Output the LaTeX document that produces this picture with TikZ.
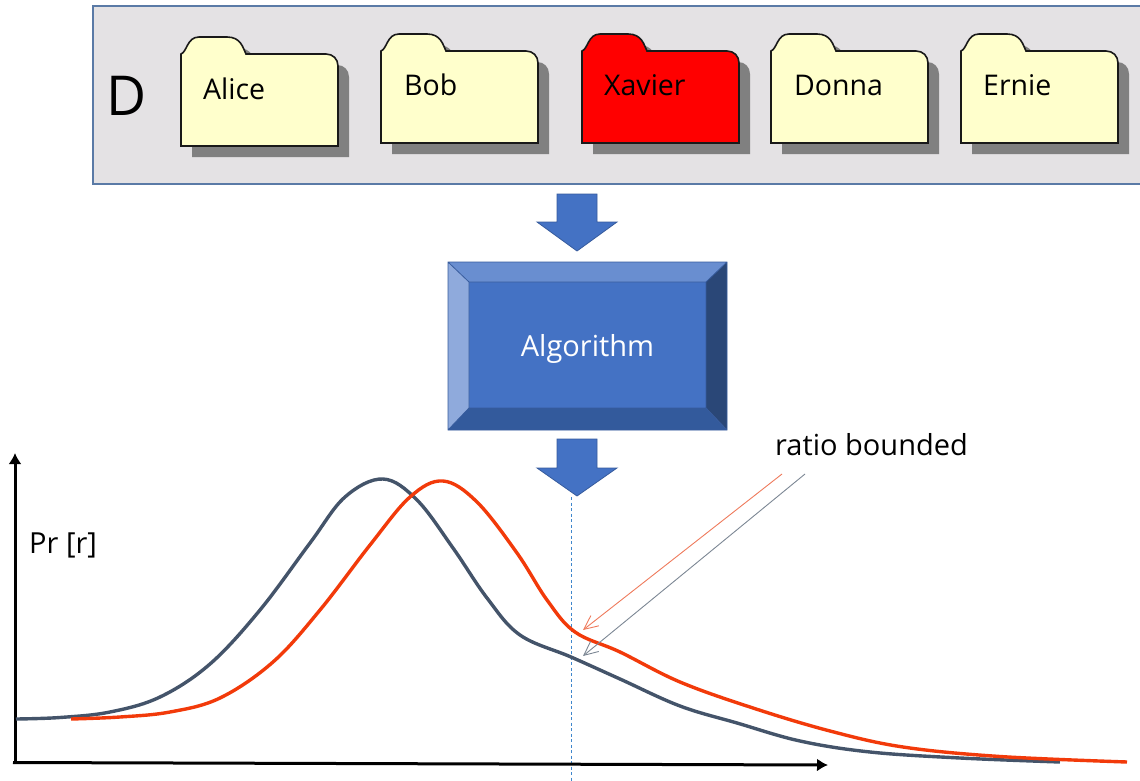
\documentclass[tikz,border=0pt]{standalone}
\usepackage{fontspec}
\setmainfont{Open Sans}
\usetikzlibrary{arrows.meta}
\definecolor{panelfill}{HTML}{E4E2E4}
\definecolor{panelline}{HTML}{5A7AA6}
\definecolor{foldercream}{HTML}{FFFFCC}
\definecolor{foldershadow}{HTML}{808080}
\definecolor{algomain}{HTML}{4472C4}
\definecolor{algotop}{HTML}{698ED0}
\definecolor{algoleft}{HTML}{8FAADC}
\definecolor{algoright}{HTML}{2A4777}
\definecolor{algobottom}{HTML}{335A9C}
\definecolor{curvedark}{HTML}{44546A}
\definecolor{curvered}{HTML}{F23A0A}
\definecolor{thinred}{HTML}{EE7A5C}
\definecolor{thingrey}{HTML}{7C8794}
\definecolor{dashblue}{HTML}{3F86CC}
\newcommand{\folderoutline}{(0,92) -- (0,0) .. controls (6,-2) and (6,-17) .. (18,-17) -- (46,-17) .. controls (60,-17) and (62,-6) .. (65,0) -- (145,0) .. controls (152,0) and (157,5) .. (157,12) -- (157,92) -- cycle}
\tikzset{
  foldertext/.style={anchor=base west,inner sep=0pt,font=\fontsize{28.5}{32}\selectfont},
  labeltext/.style={inner sep=0pt,font=\fontsize{29}{33}\selectfont},
  bigarrow/.style={fill=algomain,draw=algomain!80!black,line width=0.8pt},
  axisline/.style={line width=3pt,-{Latex[length=11pt,width=13pt]}},
  curveline/.style={line width=3.4pt,smooth,tension=0.6,line cap=butt},
  thinarrow/.style={line width=0.9pt,-{Straight Barb[length=14pt,width=13pt,line width=0.9pt]}}
}
\begin{document}
\begin{tikzpicture}[x=1pt,y=-1pt]
\useasboundingbox (0,0) rectangle (1140,781);
% panel
\path[fill=panelfill,draw=panelline,line width=1.6pt] (93,6) -- (1142,6) -- (1142,184) -- (93,184) -- cycle;
\node[inner sep=0pt,font=\fontsize{55}{60}\selectfont] (dlabel) at (126.5,96) {D};
% folders
\foreach \fx/\fy/\fc/\fname/\ftxt/\tx/\ty in {
  181/54/foldercream/alice/Alice/203/100,
  381/51/foldercream/bob/Bob/404/96,
  582/51/red/xavier/Xavier/604/96,
  771/51/foldercream/donna/Donna/794/96,
  961/51/foldercream/ernie/Ernie/983/96}{
  \begin{scope}[shift={(\fx,\fy)}]
    \fill[foldershadow,shift={(11,11)}] \folderoutline;
    \draw[draw=black!90,line width=1.6pt,fill=\fc] \folderoutline;
  \end{scope}
  \node[foldertext] (\fname) at (\tx,\ty) {\ftxt};
}
% top block arrow
\path[bigarrow] (557,194) -- (597,194) -- (597,222) -- (617,222) -- (577,251) -- (537,222) -- (557,222) -- cycle;
% algorithm bevel
\fill[algomain] (469,282) rectangle (706,408);
\fill[algotop] (448,262) -- (727,262) -- (706,282) -- (469,282) -- cycle;
\fill[algoleft] (448,262) -- (469,282) -- (469,408) -- (448,430) -- cycle;
\fill[algoright] (727,262) -- (706,282) -- (706,408) -- (727,430) -- cycle;
\fill[algobottom] (448,430) -- (469,408) -- (706,408) -- (727,430) -- cycle;
\draw[algomain!80!black,line width=0.8pt] (448,262) rectangle (727,430) (469,282) rectangle (706,408)
  (448,262) -- (469,282) (727,262) -- (706,282) (727,430) -- (706,408) (448,430) -- (469,408);
\node[labeltext,text=white,anchor=base] (algo) at (587.5,356) {Algorithm};
% lower block arrow
\path[bigarrow] (557,439) -- (597,439) -- (597,468) -- (617,468) -- (577,496) -- (537,468) -- (557,468) -- cycle;
% dashed guide
\coordinate (guidetop) at (571.5,497);
\coordinate (guidebottom) at (571.5,781);
\draw[dashblue,line width=1pt,dash pattern=on 3pt off 2.5pt] (guidetop) -- (guidebottom);
% axes
\coordinate (yend) at (15,453);
\coordinate (xend) at (828,765);
\draw[axisline] (15,764) -- (yend);
\draw[axisline] (13,762.5) -- (xend);
% curves
\draw[curveline,curvedark] plot coordinates {(16,719) (60,717.5) (110,712) (160,697) (210,664) (260,610) (310,543) (345,497) (383,479) (417,500) (453,548) (487,598) (520,635) (571,657) (620,679) (680,706) (737,723) (800,741) (870,752) (960,758) (1060,762)};
\draw[curveline,curvered] plot coordinates {(71,719) (120,717) (170,712) (220,698) (273,662) (320,610) (370,545) (410,497) (443,481) (477,502) (517,553) (547,600) (575,632) (620,652) (680,682) (753,708) (830,731) (903,747) (1000,756.5) (1127,762)};
% labels and pointers
\node[labeltext,anchor=base west] (prlabel) at (29,553) {Pr [r]};
\node[labeltext,anchor=base west] (ratio) at (775,455) {ratio bounded};
\coordinate (redstart) at (782,474);
\coordinate (redend) at (583,630);
\coordinate (greystart) at (805,474);
\coordinate (greyend) at (583,656);
\draw[thinarrow,thinred] (redstart) -- (redend);
\draw[thinarrow,thingrey] (greystart) -- (greyend);
\end{tikzpicture}
\end{document}
